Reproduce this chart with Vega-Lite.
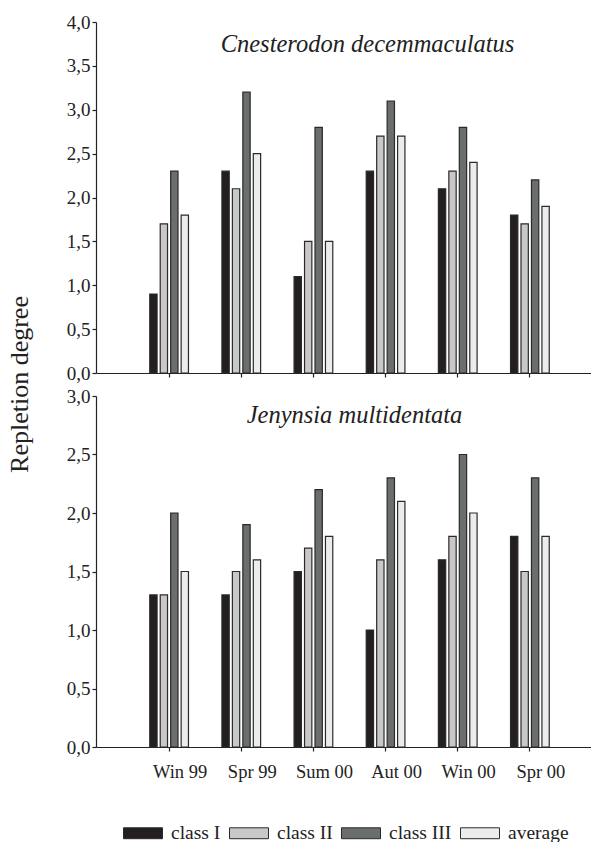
{
  "$schema": "https://vega.github.io/schema/vega-lite/v6.json",
  "padding": {"left": 6, "top": 13, "right": 0, "bottom": 0},
  "background": "white",
  "config": {
    "view": {"stroke": null},
    "font": "Liberation Serif",
    "axis": {"labelFont": "Liberation Serif", "titleFont": "Liberation Serif", "domainColor": "#222", "tickColor": "#222", "labelColor": "#222", "titleColor": "#222", "grid": false, "domainWidth": 1.2, "tickWidth": 1.2}
  },
  "datasets": {
    "rep": [
      {"species": "C", "season": "Win 99", "cls": "class I", "value": 0.9},
      {"species": "C", "season": "Win 99", "cls": "class II", "value": 1.7},
      {"species": "C", "season": "Win 99", "cls": "class III", "value": 2.3},
      {"species": "C", "season": "Win 99", "cls": "average", "value": 1.8},
      {"species": "C", "season": "Spr 99", "cls": "class I", "value": 2.3},
      {"species": "C", "season": "Spr 99", "cls": "class II", "value": 2.1},
      {"species": "C", "season": "Spr 99", "cls": "class III", "value": 3.2},
      {"species": "C", "season": "Spr 99", "cls": "average", "value": 2.5},
      {"species": "C", "season": "Sum 00", "cls": "class I", "value": 1.1},
      {"species": "C", "season": "Sum 00", "cls": "class II", "value": 1.5},
      {"species": "C", "season": "Sum 00", "cls": "class III", "value": 2.8},
      {"species": "C", "season": "Sum 00", "cls": "average", "value": 1.5},
      {"species": "C", "season": "Aut 00", "cls": "class I", "value": 2.3},
      {"species": "C", "season": "Aut 00", "cls": "class II", "value": 2.7},
      {"species": "C", "season": "Aut 00", "cls": "class III", "value": 3.1},
      {"species": "C", "season": "Aut 00", "cls": "average", "value": 2.7},
      {"species": "C", "season": "Win 00", "cls": "class I", "value": 2.1},
      {"species": "C", "season": "Win 00", "cls": "class II", "value": 2.3},
      {"species": "C", "season": "Win 00", "cls": "class III", "value": 2.8},
      {"species": "C", "season": "Win 00", "cls": "average", "value": 2.4},
      {"species": "C", "season": "Spr 00", "cls": "class I", "value": 1.8},
      {"species": "C", "season": "Spr 00", "cls": "class II", "value": 1.7},
      {"species": "C", "season": "Spr 00", "cls": "class III", "value": 2.2},
      {"species": "C", "season": "Spr 00", "cls": "average", "value": 1.9},
      {"species": "J", "season": "Win 99", "cls": "class I", "value": 1.3},
      {"species": "J", "season": "Win 99", "cls": "class II", "value": 1.3},
      {"species": "J", "season": "Win 99", "cls": "class III", "value": 2.0},
      {"species": "J", "season": "Win 99", "cls": "average", "value": 1.5},
      {"species": "J", "season": "Spr 99", "cls": "class I", "value": 1.3},
      {"species": "J", "season": "Spr 99", "cls": "class II", "value": 1.5},
      {"species": "J", "season": "Spr 99", "cls": "class III", "value": 1.9},
      {"species": "J", "season": "Spr 99", "cls": "average", "value": 1.6},
      {"species": "J", "season": "Sum 00", "cls": "class I", "value": 1.5},
      {"species": "J", "season": "Sum 00", "cls": "class II", "value": 1.7},
      {"species": "J", "season": "Sum 00", "cls": "class III", "value": 2.2},
      {"species": "J", "season": "Sum 00", "cls": "average", "value": 1.8},
      {"species": "J", "season": "Aut 00", "cls": "class I", "value": 1.0},
      {"species": "J", "season": "Aut 00", "cls": "class II", "value": 1.6},
      {"species": "J", "season": "Aut 00", "cls": "class III", "value": 2.3},
      {"species": "J", "season": "Aut 00", "cls": "average", "value": 2.1},
      {"species": "J", "season": "Win 00", "cls": "class I", "value": 1.6},
      {"species": "J", "season": "Win 00", "cls": "class II", "value": 1.8},
      {"species": "J", "season": "Win 00", "cls": "class III", "value": 2.5},
      {"species": "J", "season": "Win 00", "cls": "average", "value": 2.0},
      {"species": "J", "season": "Spr 00", "cls": "class I", "value": 1.8},
      {"species": "J", "season": "Spr 00", "cls": "class II", "value": 1.5},
      {"species": "J", "season": "Spr 00", "cls": "class III", "value": 2.3},
      {"species": "J", "season": "Spr 00", "cls": "average", "value": 1.8}
    ]
  },
  "bounds": "flush",
  "spacing": 23,
  "resolve": {"scale": {"fill": "shared"}, "legend": {"fill": "shared"}},
  "vconcat": [
    {
      "width": 495,
      "height": 351,
      "data": {"name": "rep"},
      "transform": [{"filter": "datum.species === 'C'"}],
      "title": {"text": "Cnesterodon decemmaculatus", "font": "Liberation Serif", "fontStyle": "italic", "fontWeight": "normal", "fontSize": 24.5, "color": "#222", "anchor": "middle", "frame": "group", "offset": 0, "baseline": "alphabetic", "dx": 24, "dy": 63},
      "mark": {"type": "bar", "stroke": "#2a2a2a", "strokeWidth": 1.2},
      "encoding": {
        "x": {"field": "season", "type": "nominal", "sort": ["Win 99", "Spr 99", "Sum 00", "Aut 00", "Win 00", "Spr 00"],
              "scale": {"paddingInner": 0.42, "paddingOuter": 0.64, "align": 0.565},
              "axis": {"title": null, "labels": false, "tickSize": 4}},
        "xOffset": {"field": "cls", "type": "nominal", "sort": ["class I", "class II", "class III", "average"], "scale": {"paddingInner": 0.3, "paddingOuter": 0.15}},
        "y": {"field": "value", "type": "quantitative", "scale": {"domain": [0, 4], "nice": false},
              "axis": {"values": [0, 0.5, 1, 1.5, 2, 2.5, 3, 3.5, 4], "labelExpr": "replace(format(datum.value, '.1f'), '.', ',')", "labelFontSize": 19, "tickSize": 4, "labelPadding": 2,
                       "title": "Repletion degree", "titleFontSize": 26, "titleFontWeight": "normal", "titleX": -64, "titleY": 362, "titleAngle": -90, "titleBaseline": "bottom", "titleAlign": "center"}},
        "fill": {"field": "cls", "type": "nominal", "sort": ["class I", "class II", "class III", "average"],
                 "scale": {"domain": ["class I", "class II", "class III", "average"], "range": ["#231f20", "#c8c8c8", "#6b6e6e", "#ececec"]},
                 "legend": {"orient": "none", "legendX": 27, "legendY": 791, "direction": "horizontal", "title": null,
                            "symbolType": "M-1,-0.28H1V0.28H-1Z", "symbolSize": 1521, "symbolStrokeColor": "#222", "symbolStrokeWidth": 1, "symbolOpacity": 1,
                            "labelFont": "Liberation Serif", "labelFontSize": 19.5, "labelColor": "#222", "labelOffset": 8, "columnPadding": 6}}
      }
    },
    {
      "width": 495,
      "height": 351,
      "data": {"name": "rep"},
      "transform": [{"filter": "datum.species === 'J'"}],
      "title": {"text": "Jenynsia multidentata", "font": "Liberation Serif", "fontStyle": "italic", "fontWeight": "normal", "fontSize": 24.5, "color": "#222", "anchor": "middle", "frame": "group", "offset": 0, "baseline": "alphabetic", "dx": 11, "dy": 60},
      "mark": {"type": "bar", "stroke": "#2a2a2a", "strokeWidth": 1.2},
      "encoding": {
        "x": {"field": "season", "type": "nominal", "sort": ["Win 99", "Spr 99", "Sum 00", "Aut 00", "Win 00", "Spr 00"],
              "scale": {"paddingInner": 0.42, "paddingOuter": 0.64, "align": 0.565},
              "axis": {"title": null, "labelAngle": 0, "labelFontSize": 18.5, "tickSize": 4, "labelPadding": 11, "labelOffset": 11}},
        "xOffset": {"field": "cls", "type": "nominal", "sort": ["class I", "class II", "class III", "average"], "scale": {"paddingInner": 0.3, "paddingOuter": 0.15}},
        "y": {"field": "value", "type": "quantitative", "scale": {"domain": [0, 3], "nice": false},
              "axis": {"values": [0, 0.5, 1, 1.5, 2, 2.5, 3], "labelExpr": "replace(format(datum.value, '.1f'), '.', ',')", "labelFontSize": 19, "tickSize": 4, "labelPadding": 2, "title": null}},
        "fill": {"field": "cls", "type": "nominal", "sort": ["class I", "class II", "class III", "average"]}
      }
    }
  ]
}
